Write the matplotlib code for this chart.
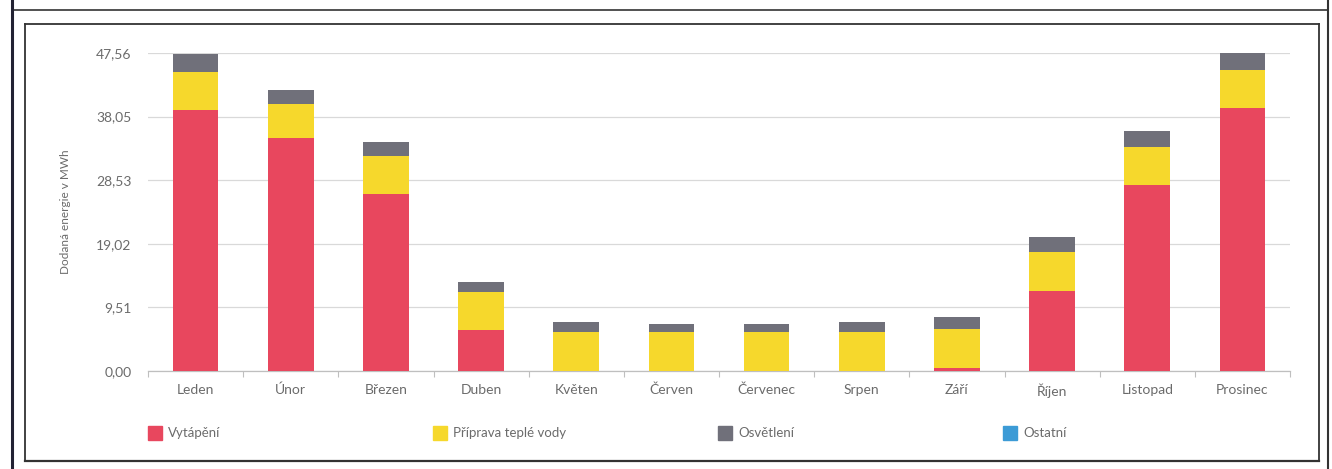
import matplotlib
matplotlib.use("Agg")
import matplotlib.pyplot as plt
from matplotlib.lines import Line2D
from matplotlib.patches import Rectangle
import numpy as np

months = ["Leden", "Únor", "Březen", "Duben", "Květen", "Červen",
          "Červenec", "Srpen", "Září", "Říjen", "Listopad", "Prosinec"]
vytapeni = [39.0, 34.8, 26.5, 6.1, 0.0, 0.0, 0.0, 0.0, 0.5, 12.0, 27.8, 39.3]
tepla_voda = [5.7, 5.1, 5.7, 5.7, 5.8, 5.8, 5.8, 5.8, 5.8, 5.8, 5.7, 5.7]
osvetleni = [2.7, 2.1, 2.1, 1.5, 1.5, 1.2, 1.2, 1.5, 1.8, 2.2, 2.4, 2.6]
ostatni = [0.0] * 12
series_names = ["Vytápění", "Příprava teplé vody", "Osvětlení", "Ostatní"]
yticks = [0.00, 9.51, 19.02, 28.53, 38.05, 47.56]

colors = ["#E8475E", "#F6D82C", "#70707A", "#3C9BD6"]
FONT = ["Lato", "DejaVu Sans"]
grey_txt = "#6B6B6B"

W, H = 1332, 469
fig = plt.figure(figsize=(W / 100, H / 100), dpi=100)
fig.patch.set_facecolor("white")

def px(x0, y0, x1, y1):
    return [x0 / W, 1 - y1 / H, (x1 - x0) / W, (y1 - y0) / H]

ax = fig.add_axes(px(148, 53, 1290, 371))
x = np.arange(len(months))
bottom = np.zeros(len(months))
for vals, c in zip([vytapeni, tepla_voda, osvetleni, ostatni], colors):
    ax.bar(x, vals, bottom=bottom, width=0.48, color=c, zorder=3, linewidth=0)
    bottom += np.array(vals)

ax.set_xlim(-0.5, 11.5)
ax.set_ylim(0, yticks[-1])
ax.set_yticks(yticks)
ax.set_yticklabels([f"{v:.2f}".replace(".", ",") for v in yticks],
                   fontsize=10, color=grey_txt, family=FONT)
ax.tick_params(axis="y", length=0, pad=12)
ax.set_xticks(x)
ax.set_xticklabels(months, fontsize=10, color=grey_txt, family=FONT)
ax.tick_params(axis="x", length=0, pad=9)
ax.set_xticks(np.arange(-0.5, 12, 1), minor=True)
ax.tick_params(axis="x", which="minor", length=4, color="#BFBFBF", width=0.8)
ax.yaxis.grid(True, color="#D9D9D9", linewidth=0.9, zorder=0)
for s in ["top", "right", "left"]:
    ax.spines[s].set_visible(False)
ax.spines["bottom"].set_color("#BFBFBF")
ax.spines["bottom"].set_linewidth(0.9)
ax.set_ylabel("Dodaná energie v MWh", fontsize=8.5, color=grey_txt, family=FONT)
ax.yaxis.set_label_coords(-0.0675, 0.5)

# legend
leg_x = [148, 433, 718, 1003]
for name, c, lx in zip(series_names, colors, leg_x):
    fig.add_artist(Rectangle((lx / W, 1 - 440 / H), 14 / W, 14 / H,
                             transform=fig.transFigure, color=c))
    fig.text((lx + 20) / W, 1 - 433 / H, name, fontsize=9.5, color=grey_txt,
             family=FONT, va="center", ha="left")

# frames
def hline(y, x0, x1, lw, c="#333333"):
    fig.add_artist(Line2D([x0 / W, x1 / W], [1 - y / H, 1 - y / H],
                          transform=fig.transFigure, color=c, linewidth=lw))

def vline(xp, y0, y1, lw, c="#333333"):
    fig.add_artist(Line2D([xp / W, xp / W], [1 - y0 / H, 1 - y1 / H],
                          transform=fig.transFigure, color=c, linewidth=lw))

hline(10, 12, 1328, 1.2)
vline(12, 0, 469, 2.2, "#222233")
vline(1328, 0, 469, 1.5)
# inner box
hline(24, 25, 1319, 1.3)
hline(461, 25, 1319, 1.6)
vline(25, 24, 461, 1.3)
vline(1319, 24, 461, 1.3)

fig.savefig("out.png", dpi=100, facecolor="white")
